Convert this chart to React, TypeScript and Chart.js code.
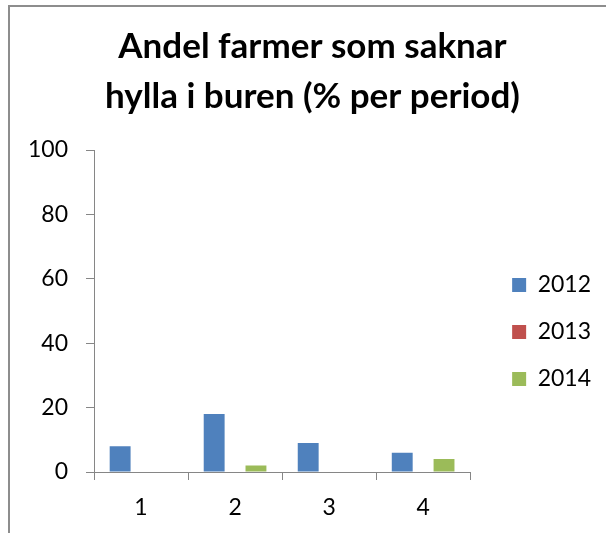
import React, { useEffect, useRef } from "react";
import { Chart, registerables } from "chart.js";

Chart.register(...registerables);

const categories = ["1", "2", "3", "4"];
const seriesNames = ["2012", "2013", "2014"];
const values2012 = [8, 18, 9, 6];
const values2013 = [0, 0, 0, 0];
const values2014 = [0, 2, 0, 4];
const colors = ["#4F81BD", "#C0504D", "#9BBB59"];
const titleLines = ["Andel farmer som saknar", "hylla i buren (% per period)"];

const boxShift = {
  id: "boxShift",
  afterLayout(chart: any) {
    const l = chart.legend;
    if (l) {
      l.left += 18;
      l.right += 18;
    }
    const t = chart.titleBlock;
    if (t) {
      t.left += 16;
      t.right += 16;
    }
  },
};

export default function App() {
  const ref = useRef<HTMLCanvasElement | null>(null);

  useEffect(() => {
    if (!ref.current) return;
    const axisColor = "#868686";
    const chart = new Chart(ref.current, {
      type: "bar",
      data: {
        labels: categories,
        datasets: [values2012, values2013, values2014].map((d, i) => ({
          label: seriesNames[i],
          data: d,
          backgroundColor: colors[i],
          borderWidth: 0,
          categoryPercentage: 3 / 4.5,
          barPercentage: 1,
        })),
      },
      plugins: [boxShift],
      options: {
        responsive: false,
        animation: false,
        layout: { padding: { left: 10, right: 23, top: 0, bottom: 0 } },
        font: { family: "Lato" },
        plugins: {
          tooltip: { enabled: false },
          title: {
            display: true,
            text: titleLines,
            color: "#000",
            font: { family: "Lato", size: 35, weight: "bold", lineHeight: 50 / 35 },
            padding: { top: 22, bottom: 28 },
          },
          legend: {
            position: "right",
            align: "center",
            fullSize: false,
            title: {
              display: true,
              text: " ",
              font: { size: 10, lineHeight: 1.2 },
              padding: { top: 15, bottom: 15 },
            },
            labels: {
              boxWidth: 14,
              boxHeight: 14,
              padding: 24,
              color: "#000",
              font: { family: "Lato", size: 23 },
            },
          },
        },
        scales: {
          x: {
            grid: {
              drawOnChartArea: false,
              drawTicks: true,
              tickLength: 8,
              color: axisColor,
              offset: true,
            },
            border: { display: true, color: axisColor, width: 1 },
            ticks: {
              color: "#000",
              font: { family: "Lato", size: 23, lineHeight: 1.2 },
              padding: 14.2,
            },
          },
          y: {
            min: 0,
            max: 100,
            grid: {
              drawOnChartArea: false,
              drawTicks: true,
              tickLength: 8,
              color: axisColor,
            },
            border: { display: true, color: axisColor, width: 1 },
            ticks: {
              stepSize: 20,
              color: "#000",
              font: { family: "Lato", size: 23 },
              padding: 18,
            },
          },
        },
      },
    });
    return () => chart.destroy();
  }, []);

  return (
    <div>
      <div
        style={{
          position: "fixed",
          left: 8,
          top: 5,
          width: 1000,
          height: 1000,
          borderTop: "2px solid #8d8d8d",
          borderLeft: "2px solid #8d8d8d",
        }}
      />
      <canvas
        ref={ref}
        width={606}
        height={536}
        style={{ position: "fixed", left: 0, top: 0, width: 606, height: 536 }}
      />
    </div>
  );
}
